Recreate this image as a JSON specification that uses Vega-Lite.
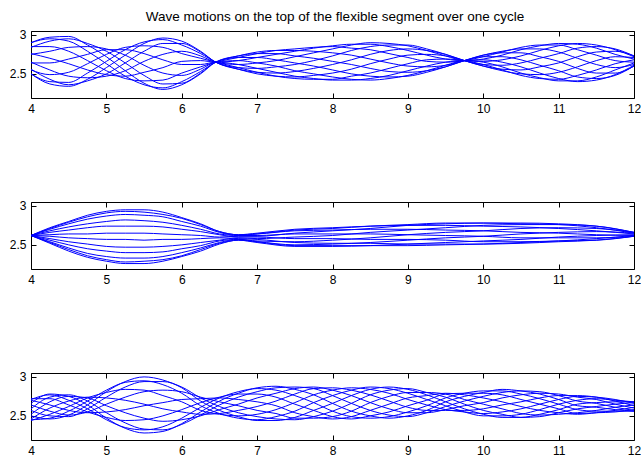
{
  "$schema": "https://vega.github.io/schema/vega-lite/v6.json",
  "padding": {"left": 8, "top": 9, "right": 0, "bottom": 0},
  "background": "white",
  "title": {"text": "Wave motions on the top of the flexible segment over one cycle", "font": "Liberation Sans", "fontSize": 13.5, "fontWeight": "normal", "color": "#000000", "anchor": "middle", "offset": 5, "dx": 10},
  "datasets": {
    "wave": [
      {"p":1,"c":0,"x":4,"y":2.9},{"p":1,"c":0,"x":4.25,"y":2.97},{"p":1,"c":0,"x":4.5,"y":2.98},{"p":1,"c":0,"x":4.75,"y":2.87},{"p":1,"c":0,"x":5,"y":2.72},{"p":1,"c":0,"x":5.25,"y":2.54},{"p":1,"c":0,"x":5.5,"y":2.38},{"p":1,"c":0,"x":5.75,"y":2.3},{"p":1,"c":0,"x":6,"y":2.36},{"p":1,"c":0,"x":6.25,"y":2.5},{"p":1,"c":0,"x":6.45,"y":2.65},{"p":1,"c":0,"x":6.75,"y":2.73},{"p":1,"c":0,"x":7,"y":2.76},{"p":1,"c":0,"x":7.25,"y":2.76},{"p":1,"c":0,"x":7.5,"y":2.73},{"p":1,"c":0,"x":7.75,"y":2.7},{"p":1,"c":0,"x":8,"y":2.66},{"p":1,"c":0,"x":8.25,"y":2.62},{"p":1,"c":0,"x":8.5,"y":2.57},{"p":1,"c":0,"x":8.75,"y":2.53},{"p":1,"c":0,"x":9,"y":2.52},{"p":1,"c":0,"x":9.25,"y":2.54},{"p":1,"c":0,"x":9.5,"y":2.59},{"p":1,"c":0,"x":9.75,"y":2.67},{"p":1,"c":0,"x":10,"y":2.74},{"p":1,"c":0,"x":10.25,"y":2.77},{"p":1,"c":0,"x":10.5,"y":2.77},{"p":1,"c":0,"x":10.75,"y":2.72},{"p":1,"c":0,"x":11,"y":2.66},{"p":1,"c":0,"x":11.25,"y":2.57},{"p":1,"c":0,"x":11.5,"y":2.51},{"p":1,"c":0,"x":11.75,"y":2.51},{"p":1,"c":0,"x":12,"y":2.6},
      {"p":1,"c":1,"x":4,"y":2.9},{"p":1,"c":1,"x":4.25,"y":2.95},{"p":1,"c":1,"x":4.5,"y":2.92},{"p":1,"c":1,"x":4.75,"y":2.79},{"p":1,"c":1,"x":5,"y":2.63},{"p":1,"c":1,"x":5.25,"y":2.47},{"p":1,"c":1,"x":5.5,"y":2.36},{"p":1,"c":1,"x":5.75,"y":2.32},{"p":1,"c":1,"x":6,"y":2.4},{"p":1,"c":1,"x":6.25,"y":2.53},{"p":1,"c":1,"x":6.45,"y":2.65},{"p":1,"c":1,"x":6.75,"y":2.73},{"p":1,"c":1,"x":7,"y":2.78},{"p":1,"c":1,"x":7.25,"y":2.8},{"p":1,"c":1,"x":7.5,"y":2.8},{"p":1,"c":1,"x":7.75,"y":2.79},{"p":1,"c":1,"x":8,"y":2.77},{"p":1,"c":1,"x":8.25,"y":2.74},{"p":1,"c":1,"x":8.5,"y":2.69},{"p":1,"c":1,"x":8.75,"y":2.64},{"p":1,"c":1,"x":9,"y":2.6},{"p":1,"c":1,"x":9.25,"y":2.59},{"p":1,"c":1,"x":9.5,"y":2.61},{"p":1,"c":1,"x":9.75,"y":2.67},{"p":1,"c":1,"x":10,"y":2.74},{"p":1,"c":1,"x":10.25,"y":2.79},{"p":1,"c":1,"x":10.5,"y":2.82},{"p":1,"c":1,"x":10.75,"y":2.82},{"p":1,"c":1,"x":11,"y":2.78},{"p":1,"c":1,"x":11.25,"y":2.7},{"p":1,"c":1,"x":11.5,"y":2.62},{"p":1,"c":1,"x":11.75,"y":2.58},{"p":1,"c":1,"x":12,"y":2.62},
      {"p":1,"c":2,"x":4,"y":2.85},{"p":1,"c":2,"x":4.25,"y":2.85},{"p":1,"c":2,"x":4.5,"y":2.79},{"p":1,"c":2,"x":4.75,"y":2.67},{"p":1,"c":2,"x":5,"y":2.54},{"p":1,"c":2,"x":5.25,"y":2.44},{"p":1,"c":2,"x":5.5,"y":2.41},{"p":1,"c":2,"x":5.75,"y":2.42},{"p":1,"c":2,"x":6,"y":2.51},{"p":1,"c":2,"x":6.25,"y":2.59},{"p":1,"c":2,"x":6.45,"y":2.65},{"p":1,"c":2,"x":6.75,"y":2.71},{"p":1,"c":2,"x":7,"y":2.76},{"p":1,"c":2,"x":7.25,"y":2.8},{"p":1,"c":2,"x":7.5,"y":2.82},{"p":1,"c":2,"x":7.75,"y":2.84},{"p":1,"c":2,"x":8,"y":2.85},{"p":1,"c":2,"x":8.25,"y":2.83},{"p":1,"c":2,"x":8.5,"y":2.81},{"p":1,"c":2,"x":8.75,"y":2.76},{"p":1,"c":2,"x":9,"y":2.71},{"p":1,"c":2,"x":9.25,"y":2.66},{"p":1,"c":2,"x":9.5,"y":2.65},{"p":1,"c":2,"x":9.75,"y":2.67},{"p":1,"c":2,"x":10,"y":2.72},{"p":1,"c":2,"x":10.25,"y":2.78},{"p":1,"c":2,"x":10.5,"y":2.84},{"p":1,"c":2,"x":10.75,"y":2.87},{"p":1,"c":2,"x":11,"y":2.87},{"p":1,"c":2,"x":11.25,"y":2.81},{"p":1,"c":2,"x":11.5,"y":2.74},{"p":1,"c":2,"x":11.75,"y":2.67},{"p":1,"c":2,"x":12,"y":2.65},
      {"p":1,"c":3,"x":4,"y":2.76},{"p":1,"c":3,"x":4.25,"y":2.7},{"p":1,"c":3,"x":4.5,"y":2.63},{"p":1,"c":3,"x":4.75,"y":2.55},{"p":1,"c":3,"x":5,"y":2.49},{"p":1,"c":3,"x":5.25,"y":2.47},{"p":1,"c":3,"x":5.5,"y":2.52},{"p":1,"c":3,"x":5.75,"y":2.58},{"p":1,"c":3,"x":6,"y":2.66},{"p":1,"c":3,"x":6.25,"y":2.67},{"p":1,"c":3,"x":6.45,"y":2.65},{"p":1,"c":3,"x":6.75,"y":2.67},{"p":1,"c":3,"x":7,"y":2.71},{"p":1,"c":3,"x":7.25,"y":2.75},{"p":1,"c":3,"x":7.5,"y":2.79},{"p":1,"c":3,"x":7.75,"y":2.83},{"p":1,"c":3,"x":8,"y":2.86},{"p":1,"c":3,"x":8.25,"y":2.88},{"p":1,"c":3,"x":8.5,"y":2.88},{"p":1,"c":3,"x":8.75,"y":2.85},{"p":1,"c":3,"x":9,"y":2.8},{"p":1,"c":3,"x":9.25,"y":2.74},{"p":1,"c":3,"x":9.5,"y":2.69},{"p":1,"c":3,"x":9.75,"y":2.67},{"p":1,"c":3,"x":10,"y":2.69},{"p":1,"c":3,"x":10.25,"y":2.74},{"p":1,"c":3,"x":10.5,"y":2.81},{"p":1,"c":3,"x":10.75,"y":2.86},{"p":1,"c":3,"x":11,"y":2.89},{"p":1,"c":3,"x":11.25,"y":2.88},{"p":1,"c":3,"x":11.5,"y":2.83},{"p":1,"c":3,"x":11.75,"y":2.75},{"p":1,"c":3,"x":12,"y":2.69},
      {"p":1,"c":4,"x":4,"y":2.65},{"p":1,"c":4,"x":4.25,"y":2.55},{"p":1,"c":4,"x":4.5,"y":2.47},{"p":1,"c":4,"x":4.75,"y":2.45},{"p":1,"c":4,"x":5,"y":2.47},{"p":1,"c":4,"x":5.25,"y":2.54},{"p":1,"c":4,"x":5.5,"y":2.66},{"p":1,"c":4,"x":5.75,"y":2.75},{"p":1,"c":4,"x":6,"y":2.79},{"p":1,"c":4,"x":6.25,"y":2.73},{"p":1,"c":4,"x":6.45,"y":2.65},{"p":1,"c":4,"x":6.75,"y":2.62},{"p":1,"c":4,"x":7,"y":2.64},{"p":1,"c":4,"x":7.25,"y":2.67},{"p":1,"c":4,"x":7.5,"y":2.72},{"p":1,"c":4,"x":7.75,"y":2.77},{"p":1,"c":4,"x":8,"y":2.82},{"p":1,"c":4,"x":8.25,"y":2.87},{"p":1,"c":4,"x":8.5,"y":2.9},{"p":1,"c":4,"x":8.75,"y":2.89},{"p":1,"c":4,"x":9,"y":2.86},{"p":1,"c":4,"x":9.25,"y":2.8},{"p":1,"c":4,"x":9.5,"y":2.73},{"p":1,"c":4,"x":9.75,"y":2.67},{"p":1,"c":4,"x":10,"y":2.66},{"p":1,"c":4,"x":10.25,"y":2.68},{"p":1,"c":4,"x":10.5,"y":2.73},{"p":1,"c":4,"x":10.75,"y":2.8},{"p":1,"c":4,"x":11,"y":2.86},{"p":1,"c":4,"x":11.25,"y":2.89},{"p":1,"c":4,"x":11.5,"y":2.87},{"p":1,"c":4,"x":11.75,"y":2.81},{"p":1,"c":4,"x":12,"y":2.72},
      {"p":1,"c":5,"x":4,"y":2.56},{"p":1,"c":5,"x":4.25,"y":2.43},{"p":1,"c":5,"x":4.5,"y":2.36},{"p":1,"c":5,"x":4.75,"y":2.41},{"p":1,"c":5,"x":5,"y":2.5},{"p":1,"c":5,"x":5.25,"y":2.64},{"p":1,"c":5,"x":5.5,"y":2.79},{"p":1,"c":5,"x":5.75,"y":2.89},{"p":1,"c":5,"x":6,"y":2.89},{"p":1,"c":5,"x":6.25,"y":2.78},{"p":1,"c":5,"x":6.45,"y":2.65},{"p":1,"c":5,"x":6.75,"y":2.58},{"p":1,"c":5,"x":7,"y":2.57},{"p":1,"c":5,"x":7.25,"y":2.59},{"p":1,"c":5,"x":7.5,"y":2.62},{"p":1,"c":5,"x":7.75,"y":2.67},{"p":1,"c":5,"x":8,"y":2.73},{"p":1,"c":5,"x":8.25,"y":2.8},{"p":1,"c":5,"x":8.5,"y":2.85},{"p":1,"c":5,"x":8.75,"y":2.87},{"p":1,"c":5,"x":9,"y":2.87},{"p":1,"c":5,"x":9.25,"y":2.82},{"p":1,"c":5,"x":9.5,"y":2.75},{"p":1,"c":5,"x":9.75,"y":2.67},{"p":1,"c":5,"x":10,"y":2.62},{"p":1,"c":5,"x":10.25,"y":2.61},{"p":1,"c":5,"x":10.5,"y":2.64},{"p":1,"c":5,"x":10.75,"y":2.7},{"p":1,"c":5,"x":11,"y":2.76},{"p":1,"c":5,"x":11.25,"y":2.83},{"p":1,"c":5,"x":11.5,"y":2.85},{"p":1,"c":5,"x":11.75,"y":2.82},{"p":1,"c":5,"x":12,"y":2.73},
      {"p":1,"c":6,"x":4,"y":2.5},{"p":1,"c":6,"x":4.25,"y":2.37},{"p":1,"c":6,"x":4.5,"y":2.34},{"p":1,"c":6,"x":4.75,"y":2.43},{"p":1,"c":6,"x":5,"y":2.58},{"p":1,"c":6,"x":5.25,"y":2.74},{"p":1,"c":6,"x":5.5,"y":2.89},{"p":1,"c":6,"x":5.75,"y":2.96},{"p":1,"c":6,"x":6,"y":2.92},{"p":1,"c":6,"x":6.25,"y":2.79},{"p":1,"c":6,"x":6.45,"y":2.65},{"p":1,"c":6,"x":6.75,"y":2.56},{"p":1,"c":6,"x":7,"y":2.52},{"p":1,"c":6,"x":7.25,"y":2.51},{"p":1,"c":6,"x":7.5,"y":2.53},{"p":1,"c":6,"x":7.75,"y":2.57},{"p":1,"c":6,"x":8,"y":2.62},{"p":1,"c":6,"x":8.25,"y":2.68},{"p":1,"c":6,"x":8.5,"y":2.75},{"p":1,"c":6,"x":8.75,"y":2.8},{"p":1,"c":6,"x":9,"y":2.82},{"p":1,"c":6,"x":9.25,"y":2.8},{"p":1,"c":6,"x":9.5,"y":2.75},{"p":1,"c":6,"x":9.75,"y":2.67},{"p":1,"c":6,"x":10,"y":2.6},{"p":1,"c":6,"x":10.25,"y":2.56},{"p":1,"c":6,"x":10.5,"y":2.55},{"p":1,"c":6,"x":10.75,"y":2.59},{"p":1,"c":6,"x":11,"y":2.64},{"p":1,"c":6,"x":11.25,"y":2.72},{"p":1,"c":6,"x":11.5,"y":2.78},{"p":1,"c":6,"x":11.75,"y":2.79},{"p":1,"c":6,"x":12,"y":2.73},
      {"p":1,"c":7,"x":4,"y":2.5},{"p":1,"c":7,"x":4.25,"y":2.4},{"p":1,"c":7,"x":4.5,"y":2.39},{"p":1,"c":7,"x":4.75,"y":2.51},{"p":1,"c":7,"x":5,"y":2.66},{"p":1,"c":7,"x":5.25,"y":2.81},{"p":1,"c":7,"x":5.5,"y":2.91},{"p":1,"c":7,"x":5.75,"y":2.94},{"p":1,"c":7,"x":6,"y":2.87},{"p":1,"c":7,"x":6.25,"y":2.76},{"p":1,"c":7,"x":6.45,"y":2.65},{"p":1,"c":7,"x":6.75,"y":2.56},{"p":1,"c":7,"x":7,"y":2.5},{"p":1,"c":7,"x":7.25,"y":2.47},{"p":1,"c":7,"x":7.5,"y":2.46},{"p":1,"c":7,"x":7.75,"y":2.48},{"p":1,"c":7,"x":8,"y":2.51},{"p":1,"c":7,"x":8.25,"y":2.56},{"p":1,"c":7,"x":8.5,"y":2.63},{"p":1,"c":7,"x":8.75,"y":2.69},{"p":1,"c":7,"x":9,"y":2.74},{"p":1,"c":7,"x":9.25,"y":2.75},{"p":1,"c":7,"x":9.5,"y":2.73},{"p":1,"c":7,"x":9.75,"y":2.67},{"p":1,"c":7,"x":10,"y":2.6},{"p":1,"c":7,"x":10.25,"y":2.54},{"p":1,"c":7,"x":10.5,"y":2.5},{"p":1,"c":7,"x":10.75,"y":2.49},{"p":1,"c":7,"x":11,"y":2.52},{"p":1,"c":7,"x":11.25,"y":2.59},{"p":1,"c":7,"x":11.5,"y":2.67},{"p":1,"c":7,"x":11.75,"y":2.72},{"p":1,"c":7,"x":12,"y":2.71},
      {"p":1,"c":8,"x":4,"y":2.55},{"p":1,"c":8,"x":4.25,"y":2.49},{"p":1,"c":8,"x":4.5,"y":2.52},{"p":1,"c":8,"x":4.75,"y":2.63},{"p":1,"c":8,"x":5,"y":2.75},{"p":1,"c":8,"x":5.25,"y":2.84},{"p":1,"c":8,"x":5.5,"y":2.86},{"p":1,"c":8,"x":5.75,"y":2.84},{"p":1,"c":8,"x":6,"y":2.76},{"p":1,"c":8,"x":6.25,"y":2.7},{"p":1,"c":8,"x":6.45,"y":2.65},{"p":1,"c":8,"x":6.75,"y":2.58},{"p":1,"c":8,"x":7,"y":2.52},{"p":1,"c":8,"x":7.25,"y":2.47},{"p":1,"c":8,"x":7.5,"y":2.44},{"p":1,"c":8,"x":7.75,"y":2.43},{"p":1,"c":8,"x":8,"y":2.43},{"p":1,"c":8,"x":8.25,"y":2.47},{"p":1,"c":8,"x":8.5,"y":2.51},{"p":1,"c":8,"x":8.75,"y":2.57},{"p":1,"c":8,"x":9,"y":2.63},{"p":1,"c":8,"x":9.25,"y":2.68},{"p":1,"c":8,"x":9.5,"y":2.69},{"p":1,"c":8,"x":9.75,"y":2.67},{"p":1,"c":8,"x":10,"y":2.62},{"p":1,"c":8,"x":10.25,"y":2.55},{"p":1,"c":8,"x":10.5,"y":2.48},{"p":1,"c":8,"x":10.75,"y":2.44},{"p":1,"c":8,"x":11,"y":2.43},{"p":1,"c":8,"x":11.25,"y":2.48},{"p":1,"c":8,"x":11.5,"y":2.55},{"p":1,"c":8,"x":11.75,"y":2.63},{"p":1,"c":8,"x":12,"y":2.68},
      {"p":1,"c":9,"x":4,"y":2.64},{"p":1,"c":9,"x":4.25,"y":2.64},{"p":1,"c":9,"x":4.5,"y":2.69},{"p":1,"c":9,"x":4.75,"y":2.75},{"p":1,"c":9,"x":5,"y":2.81},{"p":1,"c":9,"x":5.25,"y":2.81},{"p":1,"c":9,"x":5.5,"y":2.76},{"p":1,"c":9,"x":5.75,"y":2.68},{"p":1,"c":9,"x":6,"y":2.62},{"p":1,"c":9,"x":6.25,"y":2.62},{"p":1,"c":9,"x":6.45,"y":2.65},{"p":1,"c":9,"x":6.75,"y":2.62},{"p":1,"c":9,"x":7,"y":2.57},{"p":1,"c":9,"x":7.25,"y":2.52},{"p":1,"c":9,"x":7.5,"y":2.47},{"p":1,"c":9,"x":7.75,"y":2.44},{"p":1,"c":9,"x":8,"y":2.42},{"p":1,"c":9,"x":8.25,"y":2.42},{"p":1,"c":9,"x":8.5,"y":2.44},{"p":1,"c":9,"x":8.75,"y":2.48},{"p":1,"c":9,"x":9,"y":2.54},{"p":1,"c":9,"x":9.25,"y":2.6},{"p":1,"c":9,"x":9.5,"y":2.65},{"p":1,"c":9,"x":9.75,"y":2.67},{"p":1,"c":9,"x":10,"y":2.65},{"p":1,"c":9,"x":10.25,"y":2.59},{"p":1,"c":9,"x":10.5,"y":2.51},{"p":1,"c":9,"x":10.75,"y":2.45},{"p":1,"c":9,"x":11,"y":2.41},{"p":1,"c":9,"x":11.25,"y":2.41},{"p":1,"c":9,"x":11.5,"y":2.46},{"p":1,"c":9,"x":11.75,"y":2.55},{"p":1,"c":9,"x":12,"y":2.64},
      {"p":1,"c":10,"x":4,"y":2.75},{"p":1,"c":10,"x":4.25,"y":2.79},{"p":1,"c":10,"x":4.5,"y":2.84},{"p":1,"c":10,"x":4.75,"y":2.85},{"p":1,"c":10,"x":5,"y":2.82},{"p":1,"c":10,"x":5.25,"y":2.74},{"p":1,"c":10,"x":5.5,"y":2.61},{"p":1,"c":10,"x":5.75,"y":2.51},{"p":1,"c":10,"x":6,"y":2.48},{"p":1,"c":10,"x":6.25,"y":2.56},{"p":1,"c":10,"x":6.45,"y":2.65},{"p":1,"c":10,"x":6.75,"y":2.67},{"p":1,"c":10,"x":7,"y":2.64},{"p":1,"c":10,"x":7.25,"y":2.6},{"p":1,"c":10,"x":7.5,"y":2.54},{"p":1,"c":10,"x":7.75,"y":2.5},{"p":1,"c":10,"x":8,"y":2.46},{"p":1,"c":10,"x":8.25,"y":2.43},{"p":1,"c":10,"x":8.5,"y":2.42},{"p":1,"c":10,"x":8.75,"y":2.44},{"p":1,"c":10,"x":9,"y":2.48},{"p":1,"c":10,"x":9.25,"y":2.54},{"p":1,"c":10,"x":9.5,"y":2.61},{"p":1,"c":10,"x":9.75,"y":2.67},{"p":1,"c":10,"x":10,"y":2.68},{"p":1,"c":10,"x":10.25,"y":2.65},{"p":1,"c":10,"x":10.5,"y":2.59},{"p":1,"c":10,"x":10.75,"y":2.51},{"p":1,"c":10,"x":11,"y":2.44},{"p":1,"c":10,"x":11.25,"y":2.4},{"p":1,"c":10,"x":11.5,"y":2.42},{"p":1,"c":10,"x":11.75,"y":2.49},{"p":1,"c":10,"x":12,"y":2.61},
      {"p":1,"c":11,"x":4,"y":2.84},{"p":1,"c":11,"x":4.25,"y":2.92},{"p":1,"c":11,"x":4.5,"y":2.95},{"p":1,"c":11,"x":4.75,"y":2.89},{"p":1,"c":11,"x":5,"y":2.79},{"p":1,"c":11,"x":5.25,"y":2.64},{"p":1,"c":11,"x":5.5,"y":2.48},{"p":1,"c":11,"x":5.75,"y":2.37},{"p":1,"c":11,"x":6,"y":2.38},{"p":1,"c":11,"x":6.25,"y":2.51},{"p":1,"c":11,"x":6.45,"y":2.65},{"p":1,"c":11,"x":6.75,"y":2.71},{"p":1,"c":11,"x":7,"y":2.71},{"p":1,"c":11,"x":7.25,"y":2.68},{"p":1,"c":11,"x":7.5,"y":2.64},{"p":1,"c":11,"x":7.75,"y":2.6},{"p":1,"c":11,"x":8,"y":2.55},{"p":1,"c":11,"x":8.25,"y":2.5},{"p":1,"c":11,"x":8.5,"y":2.47},{"p":1,"c":11,"x":8.75,"y":2.46},{"p":1,"c":11,"x":9,"y":2.47},{"p":1,"c":11,"x":9.25,"y":2.52},{"p":1,"c":11,"x":9.5,"y":2.59},{"p":1,"c":11,"x":9.75,"y":2.67},{"p":1,"c":11,"x":10,"y":2.72},{"p":1,"c":11,"x":10.25,"y":2.72},{"p":1,"c":11,"x":10.5,"y":2.68},{"p":1,"c":11,"x":10.75,"y":2.61},{"p":1,"c":11,"x":11,"y":2.54},{"p":1,"c":11,"x":11.25,"y":2.46},{"p":1,"c":11,"x":11.5,"y":2.44},{"p":1,"c":11,"x":11.75,"y":2.48},{"p":1,"c":11,"x":12,"y":2.6},

      {"p":2,"c":0,"x":4,"y":2.62},{"p":2,"c":0,"x":4.25,"y":2.72},{"p":2,"c":0,"x":4.5,"y":2.8},{"p":2,"c":0,"x":4.75,"y":2.88},{"p":2,"c":0,"x":5,"y":2.93},{"p":2,"c":0,"x":5.25,"y":2.95},{"p":2,"c":0,"x":5.5,"y":2.95},{"p":2,"c":0,"x":5.75,"y":2.92},{"p":2,"c":0,"x":6,"y":2.85},{"p":2,"c":0,"x":6.25,"y":2.77},{"p":2,"c":0,"x":6.5,"y":2.67},{"p":2,"c":0,"x":6.75,"y":2.63},{"p":2,"c":0,"x":7,"y":2.64},{"p":2,"c":0,"x":7.5,"y":2.68},{"p":2,"c":0,"x":8,"y":2.69},{"p":2,"c":0,"x":8.5,"y":2.7},{"p":2,"c":0,"x":9,"y":2.7},{"p":2,"c":0,"x":9.5,"y":2.69},{"p":2,"c":0,"x":10,"y":2.68},{"p":2,"c":0,"x":10.5,"y":2.66},{"p":2,"c":0,"x":11,"y":2.65},{"p":2,"c":0,"x":11.5,"y":2.63},{"p":2,"c":0,"x":12,"y":2.62},
      {"p":2,"c":1,"x":4,"y":2.62},{"p":2,"c":1,"x":4.25,"y":2.71},{"p":2,"c":1,"x":4.5,"y":2.79},{"p":2,"c":1,"x":4.75,"y":2.86},{"p":2,"c":1,"x":5,"y":2.91},{"p":2,"c":1,"x":5.25,"y":2.93},{"p":2,"c":1,"x":5.5,"y":2.92},{"p":2,"c":1,"x":5.75,"y":2.89},{"p":2,"c":1,"x":6,"y":2.84},{"p":2,"c":1,"x":6.25,"y":2.76},{"p":2,"c":1,"x":6.5,"y":2.67},{"p":2,"c":1,"x":6.75,"y":2.63},{"p":2,"c":1,"x":7,"y":2.65},{"p":2,"c":1,"x":7.5,"y":2.7},{"p":2,"c":1,"x":8,"y":2.72},{"p":2,"c":1,"x":8.5,"y":2.74},{"p":2,"c":1,"x":9,"y":2.75},{"p":2,"c":1,"x":9.5,"y":2.75},{"p":2,"c":1,"x":10,"y":2.74},{"p":2,"c":1,"x":10.5,"y":2.73},{"p":2,"c":1,"x":11,"y":2.71},{"p":2,"c":1,"x":11.5,"y":2.68},{"p":2,"c":1,"x":12,"y":2.64},
      {"p":2,"c":2,"x":4,"y":2.62},{"p":2,"c":2,"x":4.25,"y":2.68},{"p":2,"c":2,"x":4.5,"y":2.73},{"p":2,"c":2,"x":4.75,"y":2.77},{"p":2,"c":2,"x":5,"y":2.8},{"p":2,"c":2,"x":5.25,"y":2.82},{"p":2,"c":2,"x":5.5,"y":2.81},{"p":2,"c":2,"x":5.75,"y":2.79},{"p":2,"c":2,"x":6,"y":2.75},{"p":2,"c":2,"x":6.25,"y":2.7},{"p":2,"c":2,"x":6.5,"y":2.64},{"p":2,"c":2,"x":6.75,"y":2.62},{"p":2,"c":2,"x":7,"y":2.64},{"p":2,"c":2,"x":7.5,"y":2.69},{"p":2,"c":2,"x":8,"y":2.71},{"p":2,"c":2,"x":8.5,"y":2.74},{"p":2,"c":2,"x":9,"y":2.76},{"p":2,"c":2,"x":9.5,"y":2.78},{"p":2,"c":2,"x":10,"y":2.78},{"p":2,"c":2,"x":10.5,"y":2.77},{"p":2,"c":2,"x":11,"y":2.76},{"p":2,"c":2,"x":11.5,"y":2.72},{"p":2,"c":2,"x":12,"y":2.65},
      {"p":2,"c":3,"x":4,"y":2.62},{"p":2,"c":3,"x":4.25,"y":2.63},{"p":2,"c":3,"x":4.5,"y":2.64},{"p":2,"c":3,"x":4.75,"y":2.64},{"p":2,"c":3,"x":5,"y":2.65},{"p":2,"c":3,"x":5.25,"y":2.65},{"p":2,"c":3,"x":5.5,"y":2.65},{"p":2,"c":3,"x":5.75,"y":2.64},{"p":2,"c":3,"x":6,"y":2.63},{"p":2,"c":3,"x":6.25,"y":2.62},{"p":2,"c":3,"x":6.5,"y":2.6},{"p":2,"c":3,"x":6.75,"y":2.61},{"p":2,"c":3,"x":7,"y":2.61},{"p":2,"c":3,"x":7.5,"y":2.65},{"p":2,"c":3,"x":8,"y":2.68},{"p":2,"c":3,"x":8.5,"y":2.71},{"p":2,"c":3,"x":9,"y":2.75},{"p":2,"c":3,"x":9.5,"y":2.77},{"p":2,"c":3,"x":10,"y":2.78},{"p":2,"c":3,"x":10.5,"y":2.78},{"p":2,"c":3,"x":11,"y":2.77},{"p":2,"c":3,"x":11.5,"y":2.74},{"p":2,"c":3,"x":12,"y":2.66},
      {"p":2,"c":4,"x":4,"y":2.62},{"p":2,"c":4,"x":4.25,"y":2.58},{"p":2,"c":4,"x":4.5,"y":2.54},{"p":2,"c":4,"x":4.75,"y":2.51},{"p":2,"c":4,"x":5,"y":2.48},{"p":2,"c":4,"x":5.25,"y":2.47},{"p":2,"c":4,"x":5.5,"y":2.47},{"p":2,"c":4,"x":5.75,"y":2.48},{"p":2,"c":4,"x":6,"y":2.5},{"p":2,"c":4,"x":6.25,"y":2.53},{"p":2,"c":4,"x":6.5,"y":2.56},{"p":2,"c":4,"x":6.75,"y":2.59},{"p":2,"c":4,"x":7,"y":2.58},{"p":2,"c":4,"x":7.5,"y":2.6},{"p":2,"c":4,"x":8,"y":2.62},{"p":2,"c":4,"x":8.5,"y":2.66},{"p":2,"c":4,"x":9,"y":2.69},{"p":2,"c":4,"x":9.5,"y":2.72},{"p":2,"c":4,"x":10,"y":2.75},{"p":2,"c":4,"x":10.5,"y":2.76},{"p":2,"c":4,"x":11,"y":2.76},{"p":2,"c":4,"x":11.5,"y":2.74},{"p":2,"c":4,"x":12,"y":2.66},
      {"p":2,"c":5,"x":4,"y":2.62},{"p":2,"c":5,"x":4.25,"y":2.54},{"p":2,"c":5,"x":4.5,"y":2.46},{"p":2,"c":5,"x":4.75,"y":2.39},{"p":2,"c":5,"x":5,"y":2.35},{"p":2,"c":5,"x":5.25,"y":2.33},{"p":2,"c":5,"x":5.5,"y":2.33},{"p":2,"c":5,"x":5.75,"y":2.35},{"p":2,"c":5,"x":6,"y":2.4},{"p":2,"c":5,"x":6.25,"y":2.46},{"p":2,"c":5,"x":6.5,"y":2.53},{"p":2,"c":5,"x":6.75,"y":2.57},{"p":2,"c":5,"x":7,"y":2.55},{"p":2,"c":5,"x":7.5,"y":2.54},{"p":2,"c":5,"x":8,"y":2.56},{"p":2,"c":5,"x":8.5,"y":2.59},{"p":2,"c":5,"x":9,"y":2.63},{"p":2,"c":5,"x":9.5,"y":2.66},{"p":2,"c":5,"x":10,"y":2.68},{"p":2,"c":5,"x":10.5,"y":2.71},{"p":2,"c":5,"x":11,"y":2.72},{"p":2,"c":5,"x":11.5,"y":2.71},{"p":2,"c":5,"x":12,"y":2.66},
      {"p":2,"c":6,"x":4,"y":2.62},{"p":2,"c":6,"x":4.25,"y":2.52},{"p":2,"c":6,"x":4.5,"y":2.42},{"p":2,"c":6,"x":4.75,"y":2.34},{"p":2,"c":6,"x":5,"y":2.29},{"p":2,"c":6,"x":5.25,"y":2.26},{"p":2,"c":6,"x":5.5,"y":2.26},{"p":2,"c":6,"x":5.75,"y":2.29},{"p":2,"c":6,"x":6,"y":2.35},{"p":2,"c":6,"x":6.25,"y":2.42},{"p":2,"c":6,"x":6.5,"y":2.51},{"p":2,"c":6,"x":6.75,"y":2.56},{"p":2,"c":6,"x":7,"y":2.54},{"p":2,"c":6,"x":7.5,"y":2.5},{"p":2,"c":6,"x":8,"y":2.51},{"p":2,"c":6,"x":8.5,"y":2.53},{"p":2,"c":6,"x":9,"y":2.56},{"p":2,"c":6,"x":9.5,"y":2.59},{"p":2,"c":6,"x":10,"y":2.61},{"p":2,"c":6,"x":10.5,"y":2.64},{"p":2,"c":6,"x":11,"y":2.66},{"p":2,"c":6,"x":11.5,"y":2.67},{"p":2,"c":6,"x":12,"y":2.65},
      {"p":2,"c":7,"x":4,"y":2.62},{"p":2,"c":7,"x":4.25,"y":2.53},{"p":2,"c":7,"x":4.5,"y":2.44},{"p":2,"c":7,"x":4.75,"y":2.36},{"p":2,"c":7,"x":5,"y":2.31},{"p":2,"c":7,"x":5.25,"y":2.28},{"p":2,"c":7,"x":5.5,"y":2.29},{"p":2,"c":7,"x":5.75,"y":2.31},{"p":2,"c":7,"x":6,"y":2.36},{"p":2,"c":7,"x":6.25,"y":2.44},{"p":2,"c":7,"x":6.5,"y":2.52},{"p":2,"c":7,"x":6.75,"y":2.56},{"p":2,"c":7,"x":7,"y":2.53},{"p":2,"c":7,"x":7.5,"y":2.48},{"p":2,"c":7,"x":8,"y":2.48},{"p":2,"c":7,"x":8.5,"y":2.49},{"p":2,"c":7,"x":9,"y":2.51},{"p":2,"c":7,"x":9.5,"y":2.53},{"p":2,"c":7,"x":10,"y":2.55},{"p":2,"c":7,"x":10.5,"y":2.57},{"p":2,"c":7,"x":11,"y":2.6},{"p":2,"c":7,"x":11.5,"y":2.62},{"p":2,"c":7,"x":12,"y":2.63},
      {"p":2,"c":8,"x":4,"y":2.62},{"p":2,"c":8,"x":4.25,"y":2.56},{"p":2,"c":8,"x":4.5,"y":2.5},{"p":2,"c":8,"x":4.75,"y":2.45},{"p":2,"c":8,"x":5,"y":2.42},{"p":2,"c":8,"x":5.25,"y":2.4},{"p":2,"c":8,"x":5.5,"y":2.4},{"p":2,"c":8,"x":5.75,"y":2.41},{"p":2,"c":8,"x":6,"y":2.45},{"p":2,"c":8,"x":6.25,"y":2.49},{"p":2,"c":8,"x":6.5,"y":2.55},{"p":2,"c":8,"x":6.75,"y":2.57},{"p":2,"c":8,"x":7,"y":2.54},{"p":2,"c":8,"x":7.5,"y":2.49},{"p":2,"c":8,"x":8,"y":2.49},{"p":2,"c":8,"x":8.5,"y":2.49},{"p":2,"c":8,"x":9,"y":2.49},{"p":2,"c":8,"x":9.5,"y":2.5},{"p":2,"c":8,"x":10,"y":2.51},{"p":2,"c":8,"x":10.5,"y":2.53},{"p":2,"c":8,"x":11,"y":2.55},{"p":2,"c":8,"x":11.5,"y":2.58},{"p":2,"c":8,"x":12,"y":2.62},
      {"p":2,"c":9,"x":4,"y":2.62},{"p":2,"c":9,"x":4.25,"y":2.61},{"p":2,"c":9,"x":4.5,"y":2.59},{"p":2,"c":9,"x":4.75,"y":2.58},{"p":2,"c":9,"x":5,"y":2.57},{"p":2,"c":9,"x":5.25,"y":2.57},{"p":2,"c":9,"x":5.5,"y":2.56},{"p":2,"c":9,"x":5.75,"y":2.57},{"p":2,"c":9,"x":6,"y":2.57},{"p":2,"c":9,"x":6.25,"y":2.58},{"p":2,"c":9,"x":6.5,"y":2.59},{"p":2,"c":9,"x":6.75,"y":2.58},{"p":2,"c":9,"x":7,"y":2.57},{"p":2,"c":9,"x":7.5,"y":2.53},{"p":2,"c":9,"x":8,"y":2.52},{"p":2,"c":9,"x":8.5,"y":2.52},{"p":2,"c":9,"x":9,"y":2.51},{"p":2,"c":9,"x":9.5,"y":2.51},{"p":2,"c":9,"x":10,"y":2.51},{"p":2,"c":9,"x":10.5,"y":2.52},{"p":2,"c":9,"x":11,"y":2.54},{"p":2,"c":9,"x":11.5,"y":2.56},{"p":2,"c":9,"x":12,"y":2.61},
      {"p":2,"c":10,"x":4,"y":2.62},{"p":2,"c":10,"x":4.25,"y":2.66},{"p":2,"c":10,"x":4.5,"y":2.69},{"p":2,"c":10,"x":4.75,"y":2.72},{"p":2,"c":10,"x":5,"y":2.74},{"p":2,"c":10,"x":5.25,"y":2.74},{"p":2,"c":10,"x":5.5,"y":2.74},{"p":2,"c":10,"x":5.75,"y":2.73},{"p":2,"c":10,"x":6,"y":2.7},{"p":2,"c":10,"x":6.25,"y":2.67},{"p":2,"c":10,"x":6.5,"y":2.63},{"p":2,"c":10,"x":6.75,"y":2.6},{"p":2,"c":10,"x":7,"y":2.6},{"p":2,"c":10,"x":7.5,"y":2.58},{"p":2,"c":10,"x":8,"y":2.58},{"p":2,"c":10,"x":8.5,"y":2.57},{"p":2,"c":10,"x":9,"y":2.57},{"p":2,"c":10,"x":9.5,"y":2.56},{"p":2,"c":10,"x":10,"y":2.54},{"p":2,"c":10,"x":10.5,"y":2.54},{"p":2,"c":10,"x":11,"y":2.55},{"p":2,"c":10,"x":11.5,"y":2.56},{"p":2,"c":10,"x":12,"y":2.61},
      {"p":2,"c":11,"x":4,"y":2.62},{"p":2,"c":11,"x":4.25,"y":2.7},{"p":2,"c":11,"x":4.5,"y":2.77},{"p":2,"c":11,"x":4.75,"y":2.83},{"p":2,"c":11,"x":5,"y":2.87},{"p":2,"c":11,"x":5.25,"y":2.89},{"p":2,"c":11,"x":5.5,"y":2.88},{"p":2,"c":11,"x":5.75,"y":2.86},{"p":2,"c":11,"x":6,"y":2.8},{"p":2,"c":11,"x":6.25,"y":2.74},{"p":2,"c":11,"x":6.5,"y":2.66},{"p":2,"c":11,"x":6.75,"y":2.62},{"p":2,"c":11,"x":7,"y":2.62},{"p":2,"c":11,"x":7.5,"y":2.64},{"p":2,"c":11,"x":8,"y":2.64},{"p":2,"c":11,"x":8.5,"y":2.64},{"p":2,"c":11,"x":9,"y":2.63},{"p":2,"c":11,"x":9.5,"y":2.62},{"p":2,"c":11,"x":10,"y":2.61},{"p":2,"c":11,"x":10.5,"y":2.59},{"p":2,"c":11,"x":11,"y":2.59},{"p":2,"c":11,"x":11.5,"y":2.59},{"p":2,"c":11,"x":12,"y":2.61},

      {"p":3,"c":0,"x":4,"y":2.66},{"p":3,"c":0,"x":4.25,"y":2.78},{"p":3,"c":0,"x":4.5,"y":2.75},{"p":3,"c":0,"x":4.75,"y":2.64},{"p":3,"c":0,"x":5,"y":2.47},{"p":3,"c":0,"x":5.25,"y":2.34},{"p":3,"c":0,"x":5.5,"y":2.28},{"p":3,"c":0,"x":5.75,"y":2.3},{"p":3,"c":0,"x":6,"y":2.4},{"p":3,"c":0,"x":6.25,"y":2.55},{"p":3,"c":0,"x":6.5,"y":2.69},{"p":3,"c":0,"x":6.75,"y":2.79},{"p":3,"c":0,"x":7,"y":2.86},{"p":3,"c":0,"x":7.25,"y":2.88},{"p":3,"c":0,"x":7.5,"y":2.84},{"p":3,"c":0,"x":7.75,"y":2.77},{"p":3,"c":0,"x":8,"y":2.66},{"p":3,"c":0,"x":8.25,"y":2.56},{"p":3,"c":0,"x":8.5,"y":2.5},{"p":3,"c":0,"x":8.75,"y":2.47},{"p":3,"c":0,"x":9,"y":2.5},{"p":3,"c":0,"x":9.25,"y":2.57},{"p":3,"c":0,"x":9.5,"y":2.68},{"p":3,"c":0,"x":9.75,"y":2.75},{"p":3,"c":0,"x":10,"y":2.8},{"p":3,"c":0,"x":10.25,"y":2.84},{"p":3,"c":0,"x":10.5,"y":2.82},{"p":3,"c":0,"x":10.75,"y":2.78},{"p":3,"c":0,"x":11,"y":2.71},{"p":3,"c":0,"x":11.25,"y":2.63},{"p":3,"c":0,"x":11.5,"y":2.61},{"p":3,"c":0,"x":11.75,"y":2.58},{"p":3,"c":0,"x":12,"y":2.56},
      {"p":3,"c":1,"x":4,"y":2.59},{"p":3,"c":1,"x":4.25,"y":2.74},{"p":3,"c":1,"x":4.5,"y":2.77},{"p":3,"c":1,"x":4.75,"y":2.69},{"p":3,"c":1,"x":5,"y":2.54},{"p":3,"c":1,"x":5.25,"y":2.41},{"p":3,"c":1,"x":5.5,"y":2.33},{"p":3,"c":1,"x":5.75,"y":2.32},{"p":3,"c":1,"x":6,"y":2.39},{"p":3,"c":1,"x":6.25,"y":2.51},{"p":3,"c":1,"x":6.5,"y":2.64},{"p":3,"c":1,"x":6.75,"y":2.74},{"p":3,"c":1,"x":7,"y":2.81},{"p":3,"c":1,"x":7.25,"y":2.86},{"p":3,"c":1,"x":7.5,"y":2.87},{"p":3,"c":1,"x":7.75,"y":2.85},{"p":3,"c":1,"x":8,"y":2.76},{"p":3,"c":1,"x":8.25,"y":2.66},{"p":3,"c":1,"x":8.5,"y":2.57},{"p":3,"c":1,"x":8.75,"y":2.51},{"p":3,"c":1,"x":9,"y":2.49},{"p":3,"c":1,"x":9.25,"y":2.54},{"p":3,"c":1,"x":9.5,"y":2.62},{"p":3,"c":1,"x":9.75,"y":2.69},{"p":3,"c":1,"x":10,"y":2.75},{"p":3,"c":1,"x":10.25,"y":2.8},{"p":3,"c":1,"x":10.5,"y":2.82},{"p":3,"c":1,"x":10.75,"y":2.81},{"p":3,"c":1,"x":11,"y":2.76},{"p":3,"c":1,"x":11.25,"y":2.69},{"p":3,"c":1,"x":11.5,"y":2.66},{"p":3,"c":1,"x":11.75,"y":2.61},{"p":3,"c":1,"x":12,"y":2.57},
      {"p":3,"c":2,"x":4,"y":2.52},{"p":3,"c":2,"x":4.25,"y":2.68},{"p":3,"c":2,"x":4.5,"y":2.75},{"p":3,"c":2,"x":4.75,"y":2.73},{"p":3,"c":2,"x":5,"y":2.63},{"p":3,"c":2,"x":5.25,"y":2.54},{"p":3,"c":2,"x":5.5,"y":2.47},{"p":3,"c":2,"x":5.75,"y":2.43},{"p":3,"c":2,"x":6,"y":2.45},{"p":3,"c":2,"x":6.25,"y":2.5},{"p":3,"c":2,"x":6.5,"y":2.58},{"p":3,"c":2,"x":6.75,"y":2.65},{"p":3,"c":2,"x":7,"y":2.73},{"p":3,"c":2,"x":7.25,"y":2.79},{"p":3,"c":2,"x":7.5,"y":2.85},{"p":3,"c":2,"x":7.75,"y":2.87},{"p":3,"c":2,"x":8,"y":2.83},{"p":3,"c":2,"x":8.25,"y":2.76},{"p":3,"c":2,"x":8.5,"y":2.67},{"p":3,"c":2,"x":8.75,"y":2.59},{"p":3,"c":2,"x":9,"y":2.54},{"p":3,"c":2,"x":9.25,"y":2.54},{"p":3,"c":2,"x":9.5,"y":2.58},{"p":3,"c":2,"x":9.75,"y":2.63},{"p":3,"c":2,"x":10,"y":2.67},{"p":3,"c":2,"x":10.25,"y":2.73},{"p":3,"c":2,"x":10.5,"y":2.77},{"p":3,"c":2,"x":10.75,"y":2.79},{"p":3,"c":2,"x":11,"y":2.78},{"p":3,"c":2,"x":11.25,"y":2.74},{"p":3,"c":2,"x":11.5,"y":2.71},{"p":3,"c":2,"x":11.75,"y":2.65},{"p":3,"c":2,"x":12,"y":2.6},
      {"p":3,"c":3,"x":4,"y":2.46},{"p":3,"c":3,"x":4.25,"y":2.6},{"p":3,"c":3,"x":4.5,"y":2.69},{"p":3,"c":3,"x":4.75,"y":2.74},{"p":3,"c":3,"x":5,"y":2.73},{"p":3,"c":3,"x":5.25,"y":2.7},{"p":3,"c":3,"x":5.5,"y":2.65},{"p":3,"c":3,"x":5.75,"y":2.59},{"p":3,"c":3,"x":6,"y":2.55},{"p":3,"c":3,"x":6.25,"y":2.52},{"p":3,"c":3,"x":6.5,"y":2.53},{"p":3,"c":3,"x":6.75,"y":2.57},{"p":3,"c":3,"x":7,"y":2.62},{"p":3,"c":3,"x":7.25,"y":2.69},{"p":3,"c":3,"x":7.5,"y":2.78},{"p":3,"c":3,"x":7.75,"y":2.85},{"p":3,"c":3,"x":8,"y":2.86},{"p":3,"c":3,"x":8.25,"y":2.83},{"p":3,"c":3,"x":8.5,"y":2.77},{"p":3,"c":3,"x":8.75,"y":2.69},{"p":3,"c":3,"x":9,"y":2.61},{"p":3,"c":3,"x":9.25,"y":2.57},{"p":3,"c":3,"x":9.5,"y":2.57},{"p":3,"c":3,"x":9.75,"y":2.57},{"p":3,"c":3,"x":10,"y":2.59},{"p":3,"c":3,"x":10.25,"y":2.64},{"p":3,"c":3,"x":10.5,"y":2.68},{"p":3,"c":3,"x":10.75,"y":2.73},{"p":3,"c":3,"x":11,"y":2.76},{"p":3,"c":3,"x":11.25,"y":2.76},{"p":3,"c":3,"x":11.5,"y":2.74},{"p":3,"c":3,"x":11.75,"y":2.69},{"p":3,"c":3,"x":12,"y":2.63},
      {"p":3,"c":4,"x":4,"y":2.44},{"p":3,"c":4,"x":4.25,"y":2.52},{"p":3,"c":4,"x":4.5,"y":2.62},{"p":3,"c":4,"x":4.75,"y":2.73},{"p":3,"c":4,"x":5,"y":2.8},{"p":3,"c":4,"x":5.25,"y":2.84},{"p":3,"c":4,"x":5.5,"y":2.83},{"p":3,"c":4,"x":5.75,"y":2.76},{"p":3,"c":4,"x":6,"y":2.68},{"p":3,"c":4,"x":6.25,"y":2.57},{"p":3,"c":4,"x":6.5,"y":2.52},{"p":3,"c":4,"x":6.75,"y":2.5},{"p":3,"c":4,"x":7,"y":2.52},{"p":3,"c":4,"x":7.25,"y":2.58},{"p":3,"c":4,"x":7.5,"y":2.67},{"p":3,"c":4,"x":7.75,"y":2.77},{"p":3,"c":4,"x":8,"y":2.83},{"p":3,"c":4,"x":8.25,"y":2.86},{"p":3,"c":4,"x":8.5,"y":2.84},{"p":3,"c":4,"x":8.75,"y":2.79},{"p":3,"c":4,"x":9,"y":2.71},{"p":3,"c":4,"x":9.25,"y":2.64},{"p":3,"c":4,"x":9.5,"y":2.58},{"p":3,"c":4,"x":9.75,"y":2.55},{"p":3,"c":4,"x":10,"y":2.53},{"p":3,"c":4,"x":10.25,"y":2.55},{"p":3,"c":4,"x":10.5,"y":2.59},{"p":3,"c":4,"x":10.75,"y":2.65},{"p":3,"c":4,"x":11,"y":2.71},{"p":3,"c":4,"x":11.25,"y":2.75},{"p":3,"c":4,"x":11.5,"y":2.74},{"p":3,"c":4,"x":11.75,"y":2.71},{"p":3,"c":4,"x":12,"y":2.66},
      {"p":3,"c":5,"x":4,"y":2.45},{"p":3,"c":5,"x":4.25,"y":2.47},{"p":3,"c":5,"x":4.5,"y":2.56},{"p":3,"c":5,"x":4.75,"y":2.69},{"p":3,"c":5,"x":5,"y":2.83},{"p":3,"c":5,"x":5.25,"y":2.93},{"p":3,"c":5,"x":5.5,"y":2.95},{"p":3,"c":5,"x":5.75,"y":2.9},{"p":3,"c":5,"x":6,"y":2.79},{"p":3,"c":5,"x":6.25,"y":2.63},{"p":3,"c":5,"x":6.5,"y":2.53},{"p":3,"c":5,"x":6.75,"y":2.47},{"p":3,"c":5,"x":7,"y":2.45},{"p":3,"c":5,"x":7.25,"y":2.49},{"p":3,"c":5,"x":7.5,"y":2.56},{"p":3,"c":5,"x":7.75,"y":2.67},{"p":3,"c":5,"x":8,"y":2.76},{"p":3,"c":5,"x":8.25,"y":2.83},{"p":3,"c":5,"x":8.5,"y":2.87},{"p":3,"c":5,"x":8.75,"y":2.85},{"p":3,"c":5,"x":9,"y":2.79},{"p":3,"c":5,"x":9.25,"y":2.71},{"p":3,"c":5,"x":9.5,"y":2.63},{"p":3,"c":5,"x":9.75,"y":2.55},{"p":3,"c":5,"x":10,"y":2.5},{"p":3,"c":5,"x":10.25,"y":2.5},{"p":3,"c":5,"x":10.5,"y":2.52},{"p":3,"c":5,"x":10.75,"y":2.58},{"p":3,"c":5,"x":11,"y":2.65},{"p":3,"c":5,"x":11.25,"y":2.7},{"p":3,"c":5,"x":11.5,"y":2.72},{"p":3,"c":5,"x":11.75,"y":2.7},{"p":3,"c":5,"x":12,"y":2.68},
      {"p":3,"c":6,"x":4,"y":2.5},{"p":3,"c":6,"x":4.25,"y":2.46},{"p":3,"c":6,"x":4.5,"y":2.51},{"p":3,"c":6,"x":4.75,"y":2.64},{"p":3,"c":6,"x":5,"y":2.81},{"p":3,"c":6,"x":5.25,"y":2.94},{"p":3,"c":6,"x":5.5,"y":3.0},{"p":3,"c":6,"x":5.75,"y":2.96},{"p":3,"c":6,"x":6,"y":2.86},{"p":3,"c":6,"x":6.25,"y":2.69},{"p":3,"c":6,"x":6.5,"y":2.57},{"p":3,"c":6,"x":6.75,"y":2.49},{"p":3,"c":6,"x":7,"y":2.44},{"p":3,"c":6,"x":7.25,"y":2.44},{"p":3,"c":6,"x":7.5,"y":2.48},{"p":3,"c":6,"x":7.75,"y":2.57},{"p":3,"c":6,"x":8,"y":2.66},{"p":3,"c":6,"x":8.25,"y":2.76},{"p":3,"c":6,"x":8.5,"y":2.84},{"p":3,"c":6,"x":8.75,"y":2.87},{"p":3,"c":6,"x":9,"y":2.84},{"p":3,"c":6,"x":9.25,"y":2.77},{"p":3,"c":6,"x":9.5,"y":2.68},{"p":3,"c":6,"x":9.75,"y":2.59},{"p":3,"c":6,"x":10,"y":2.52},{"p":3,"c":6,"x":10.25,"y":2.48},{"p":3,"c":6,"x":10.5,"y":2.48},{"p":3,"c":6,"x":10.75,"y":2.52},{"p":3,"c":6,"x":11,"y":2.58},{"p":3,"c":6,"x":11.25,"y":2.65},{"p":3,"c":6,"x":11.5,"y":2.67},{"p":3,"c":6,"x":11.75,"y":2.68},{"p":3,"c":6,"x":12,"y":2.68},
      {"p":3,"c":7,"x":4,"y":2.57},{"p":3,"c":7,"x":4.25,"y":2.5},{"p":3,"c":7,"x":4.5,"y":2.49},{"p":3,"c":7,"x":4.75,"y":2.59},{"p":3,"c":7,"x":5,"y":2.74},{"p":3,"c":7,"x":5.25,"y":2.87},{"p":3,"c":7,"x":5.5,"y":2.94},{"p":3,"c":7,"x":5.75,"y":2.94},{"p":3,"c":7,"x":6,"y":2.87},{"p":3,"c":7,"x":6.25,"y":2.73},{"p":3,"c":7,"x":6.5,"y":2.62},{"p":3,"c":7,"x":6.75,"y":2.54},{"p":3,"c":7,"x":7,"y":2.49},{"p":3,"c":7,"x":7.25,"y":2.46},{"p":3,"c":7,"x":7.5,"y":2.45},{"p":3,"c":7,"x":7.75,"y":2.49},{"p":3,"c":7,"x":8,"y":2.56},{"p":3,"c":7,"x":8.25,"y":2.66},{"p":3,"c":7,"x":8.5,"y":2.77},{"p":3,"c":7,"x":8.75,"y":2.83},{"p":3,"c":7,"x":9,"y":2.85},{"p":3,"c":7,"x":9.25,"y":2.8},{"p":3,"c":7,"x":9.5,"y":2.74},{"p":3,"c":7,"x":9.75,"y":2.65},{"p":3,"c":7,"x":10,"y":2.57},{"p":3,"c":7,"x":10.25,"y":2.52},{"p":3,"c":7,"x":10.5,"y":2.48},{"p":3,"c":7,"x":10.75,"y":2.49},{"p":3,"c":7,"x":11,"y":2.54},{"p":3,"c":7,"x":11.25,"y":2.59},{"p":3,"c":7,"x":11.5,"y":2.62},{"p":3,"c":7,"x":11.75,"y":2.65},{"p":3,"c":7,"x":12,"y":2.67},
      {"p":3,"c":8,"x":4,"y":2.64},{"p":3,"c":8,"x":4.25,"y":2.56},{"p":3,"c":8,"x":4.5,"y":2.51},{"p":3,"c":8,"x":4.75,"y":2.55},{"p":3,"c":8,"x":5,"y":2.65},{"p":3,"c":8,"x":5.25,"y":2.74},{"p":3,"c":8,"x":5.5,"y":2.81},{"p":3,"c":8,"x":5.75,"y":2.83},{"p":3,"c":8,"x":6,"y":2.81},{"p":3,"c":8,"x":6.25,"y":2.74},{"p":3,"c":8,"x":6.5,"y":2.68},{"p":3,"c":8,"x":6.75,"y":2.63},{"p":3,"c":8,"x":7,"y":2.57},{"p":3,"c":8,"x":7.25,"y":2.53},{"p":3,"c":8,"x":7.5,"y":2.47},{"p":3,"c":8,"x":7.75,"y":2.47},{"p":3,"c":8,"x":8,"y":2.49},{"p":3,"c":8,"x":8.25,"y":2.56},{"p":3,"c":8,"x":8.5,"y":2.67},{"p":3,"c":8,"x":8.75,"y":2.75},{"p":3,"c":8,"x":9,"y":2.8},{"p":3,"c":8,"x":9.25,"y":2.8},{"p":3,"c":8,"x":9.5,"y":2.78},{"p":3,"c":8,"x":9.75,"y":2.71},{"p":3,"c":8,"x":10,"y":2.65},{"p":3,"c":8,"x":10.25,"y":2.59},{"p":3,"c":8,"x":10.5,"y":2.53},{"p":3,"c":8,"x":10.75,"y":2.51},{"p":3,"c":8,"x":11,"y":2.52},{"p":3,"c":8,"x":11.25,"y":2.54},{"p":3,"c":8,"x":11.5,"y":2.57},{"p":3,"c":8,"x":11.75,"y":2.61},{"p":3,"c":8,"x":12,"y":2.64},
      {"p":3,"c":9,"x":4,"y":2.7},{"p":3,"c":9,"x":4.25,"y":2.64},{"p":3,"c":9,"x":4.5,"y":2.57},{"p":3,"c":9,"x":4.75,"y":2.54},{"p":3,"c":9,"x":5,"y":2.55},{"p":3,"c":9,"x":5.25,"y":2.58},{"p":3,"c":9,"x":5.5,"y":2.63},{"p":3,"c":9,"x":5.75,"y":2.67},{"p":3,"c":9,"x":6,"y":2.71},{"p":3,"c":9,"x":6.25,"y":2.72},{"p":3,"c":9,"x":6.5,"y":2.73},{"p":3,"c":9,"x":6.75,"y":2.71},{"p":3,"c":9,"x":7,"y":2.68},{"p":3,"c":9,"x":7.25,"y":2.63},{"p":3,"c":9,"x":7.5,"y":2.54},{"p":3,"c":9,"x":7.75,"y":2.49},{"p":3,"c":9,"x":8,"y":2.46},{"p":3,"c":9,"x":8.25,"y":2.49},{"p":3,"c":9,"x":8.5,"y":2.57},{"p":3,"c":9,"x":8.75,"y":2.65},{"p":3,"c":9,"x":9,"y":2.73},{"p":3,"c":9,"x":9.25,"y":2.76},{"p":3,"c":9,"x":9.5,"y":2.79},{"p":3,"c":9,"x":9.75,"y":2.77},{"p":3,"c":9,"x":10,"y":2.73},{"p":3,"c":9,"x":10.25,"y":2.68},{"p":3,"c":9,"x":10.5,"y":2.62},{"p":3,"c":9,"x":10.75,"y":2.57},{"p":3,"c":9,"x":11,"y":2.54},{"p":3,"c":9,"x":11.25,"y":2.52},{"p":3,"c":9,"x":11.5,"y":2.54},{"p":3,"c":9,"x":11.75,"y":2.57},{"p":3,"c":9,"x":12,"y":2.61},
      {"p":3,"c":10,"x":4,"y":2.72},{"p":3,"c":10,"x":4.25,"y":2.72},{"p":3,"c":10,"x":4.5,"y":2.64},{"p":3,"c":10,"x":4.75,"y":2.55},{"p":3,"c":10,"x":5,"y":2.48},{"p":3,"c":10,"x":5.25,"y":2.44},{"p":3,"c":10,"x":5.5,"y":2.45},{"p":3,"c":10,"x":5.75,"y":2.5},{"p":3,"c":10,"x":6,"y":2.58},{"p":3,"c":10,"x":6.25,"y":2.67},{"p":3,"c":10,"x":6.5,"y":2.74},{"p":3,"c":10,"x":6.75,"y":2.78},{"p":3,"c":10,"x":7,"y":2.78},{"p":3,"c":10,"x":7.25,"y":2.74},{"p":3,"c":10,"x":7.5,"y":2.65},{"p":3,"c":10,"x":7.75,"y":2.57},{"p":3,"c":10,"x":8,"y":2.49},{"p":3,"c":10,"x":8.25,"y":2.46},{"p":3,"c":10,"x":8.5,"y":2.5},{"p":3,"c":10,"x":8.75,"y":2.55},{"p":3,"c":10,"x":9,"y":2.63},{"p":3,"c":10,"x":9.25,"y":2.7},{"p":3,"c":10,"x":9.5,"y":2.78},{"p":3,"c":10,"x":9.75,"y":2.79},{"p":3,"c":10,"x":10,"y":2.79},{"p":3,"c":10,"x":10.25,"y":2.77},{"p":3,"c":10,"x":10.5,"y":2.71},{"p":3,"c":10,"x":10.75,"y":2.65},{"p":3,"c":10,"x":11,"y":2.59},{"p":3,"c":10,"x":11.25,"y":2.53},{"p":3,"c":10,"x":11.5,"y":2.54},{"p":3,"c":10,"x":11.75,"y":2.55},{"p":3,"c":10,"x":12,"y":2.58},
      {"p":3,"c":11,"x":4,"y":2.71},{"p":3,"c":11,"x":4.25,"y":2.77},{"p":3,"c":11,"x":4.5,"y":2.7},{"p":3,"c":11,"x":4.75,"y":2.59},{"p":3,"c":11,"x":5,"y":2.45},{"p":3,"c":11,"x":5.25,"y":2.35},{"p":3,"c":11,"x":5.5,"y":2.32},{"p":3,"c":11,"x":5.75,"y":2.36},{"p":3,"c":11,"x":6,"y":2.47},{"p":3,"c":11,"x":6.25,"y":2.61},{"p":3,"c":11,"x":6.5,"y":2.73},{"p":3,"c":11,"x":6.75,"y":2.81},{"p":3,"c":11,"x":7,"y":2.85},{"p":3,"c":11,"x":7.25,"y":2.83},{"p":3,"c":11,"x":7.5,"y":2.76},{"p":3,"c":11,"x":7.75,"y":2.67},{"p":3,"c":11,"x":8,"y":2.56},{"p":3,"c":11,"x":8.25,"y":2.49},{"p":3,"c":11,"x":8.5,"y":2.47},{"p":3,"c":11,"x":8.75,"y":2.49},{"p":3,"c":11,"x":9,"y":2.55},{"p":3,"c":11,"x":9.25,"y":2.63},{"p":3,"c":11,"x":9.5,"y":2.73},{"p":3,"c":11,"x":9.75,"y":2.79},{"p":3,"c":11,"x":10,"y":2.82},{"p":3,"c":11,"x":10.25,"y":2.82},{"p":3,"c":11,"x":10.5,"y":2.78},{"p":3,"c":11,"x":10.75,"y":2.72},{"p":3,"c":11,"x":11,"y":2.65},{"p":3,"c":11,"x":11.25,"y":2.58},{"p":3,"c":11,"x":11.5,"y":2.56},{"p":3,"c":11,"x":11.75,"y":2.56},{"p":3,"c":11,"x":12,"y":2.56}
    ]
  },
  "bounds": "flush",
  "spacing": 104,
  "vconcat": [
    {
      "width": 603, "height": 67,
      "data": {"name": "wave"},
      "transform": [{"filter": "datum.p === 1"}],
      "layer": [
        {
          "mark": {"type": "line", "interpolate": "monotone", "color": "#0000ff", "strokeWidth": 1},
          "encoding": {
            "x": {"field": "x", "type": "quantitative", "scale": {"domain": [4, 12], "nice": false, "zero": false},
                  "axis": {"orient": "bottom", "values": [4, 5, 6, 7, 8, 9, 10, 11, 12], "format": "d", "title": null}},
            "y": {"field": "y", "type": "quantitative", "scale": {"domain": [2.19, 3.05], "nice": false, "zero": false},
                  "axis": {"orient": "left", "values": [2.5, 3], "format": "~g", "title": null}},
            "detail": {"field": "c", "type": "nominal"}
          }
        },
        {
          "mark": {"type": "line", "opacity": 0},
          "encoding": {
            "x": {"field": "x", "type": "quantitative", "axis": {"orient": "top", "values": [4, 5, 6, 7, 8, 9, 10, 11, 12], "labels": false, "title": null}},
            "y": {"field": "y", "type": "quantitative", "axis": {"orient": "right", "values": [2.5, 3], "labels": false, "title": null}},
            "detail": {"field": "c", "type": "nominal"}
          }
        }
      ],
      "resolve": {"axis": {"x": "independent", "y": "independent"}}
    },
    {
      "width": 603, "height": 67,
      "data": {"name": "wave"},
      "transform": [{"filter": "datum.p === 2"}],
      "layer": [
        {
          "mark": {"type": "line", "interpolate": "monotone", "color": "#0000ff", "strokeWidth": 1},
          "encoding": {
            "x": {"field": "x", "type": "quantitative", "scale": {"domain": [4, 12], "nice": false, "zero": false},
                  "axis": {"orient": "bottom", "values": [4, 5, 6, 7, 8, 9, 10, 11, 12], "format": "d", "title": null}},
            "y": {"field": "y", "type": "quantitative", "scale": {"domain": [2.19, 3.05], "nice": false, "zero": false},
                  "axis": {"orient": "left", "values": [2.5, 3], "format": "~g", "title": null}},
            "detail": {"field": "c", "type": "nominal"}
          }
        },
        {
          "mark": {"type": "line", "opacity": 0},
          "encoding": {
            "x": {"field": "x", "type": "quantitative", "axis": {"orient": "top", "values": [4, 5, 6, 7, 8, 9, 10, 11, 12], "labels": false, "title": null}},
            "y": {"field": "y", "type": "quantitative", "axis": {"orient": "right", "values": [2.5, 3], "labels": false, "title": null}},
            "detail": {"field": "c", "type": "nominal"}
          }
        }
      ],
      "resolve": {"axis": {"x": "independent", "y": "independent"}}
    },
    {
      "width": 603, "height": 67,
      "data": {"name": "wave"},
      "transform": [{"filter": "datum.p === 3"}],
      "layer": [
        {
          "mark": {"type": "line", "interpolate": "monotone", "color": "#0000ff", "strokeWidth": 1},
          "encoding": {
            "x": {"field": "x", "type": "quantitative", "scale": {"domain": [4, 12], "nice": false, "zero": false},
                  "axis": {"orient": "bottom", "values": [4, 5, 6, 7, 8, 9, 10, 11, 12], "format": "d", "title": null}},
            "y": {"field": "y", "type": "quantitative", "scale": {"domain": [2.19, 3.05], "nice": false, "zero": false},
                  "axis": {"orient": "left", "values": [2.5, 3], "format": "~g", "title": null}},
            "detail": {"field": "c", "type": "nominal"}
          }
        },
        {
          "mark": {"type": "line", "opacity": 0},
          "encoding": {
            "x": {"field": "x", "type": "quantitative", "axis": {"orient": "top", "values": [4, 5, 6, 7, 8, 9, 10, 11, 12], "labels": false, "title": null}},
            "y": {"field": "y", "type": "quantitative", "axis": {"orient": "right", "values": [2.5, 3], "labels": false, "title": null}},
            "detail": {"field": "c", "type": "nominal"}
          }
        }
      ],
      "resolve": {"axis": {"x": "independent", "y": "independent"}}
    }
  ],
  "config": {
    "font": "Liberation Sans",
    "view": {"stroke": "#000000", "strokeWidth": 1},
    "axis": {
      "labelFont": "Liberation Sans",
      "labelFontSize": 12,
      "labelColor": "#000000",
      "tickColor": "#000000",
      "tickSize": -5,
      "tickWidth": 1,
      "domain": false,
      "grid": false,
      "labelFlush": false,
      "labelOverlap": false,
      "labelBound": false
    },
    "axisX": {"labelPadding": 10},
    "axisY": {"labelPadding": 10}
  }
}
